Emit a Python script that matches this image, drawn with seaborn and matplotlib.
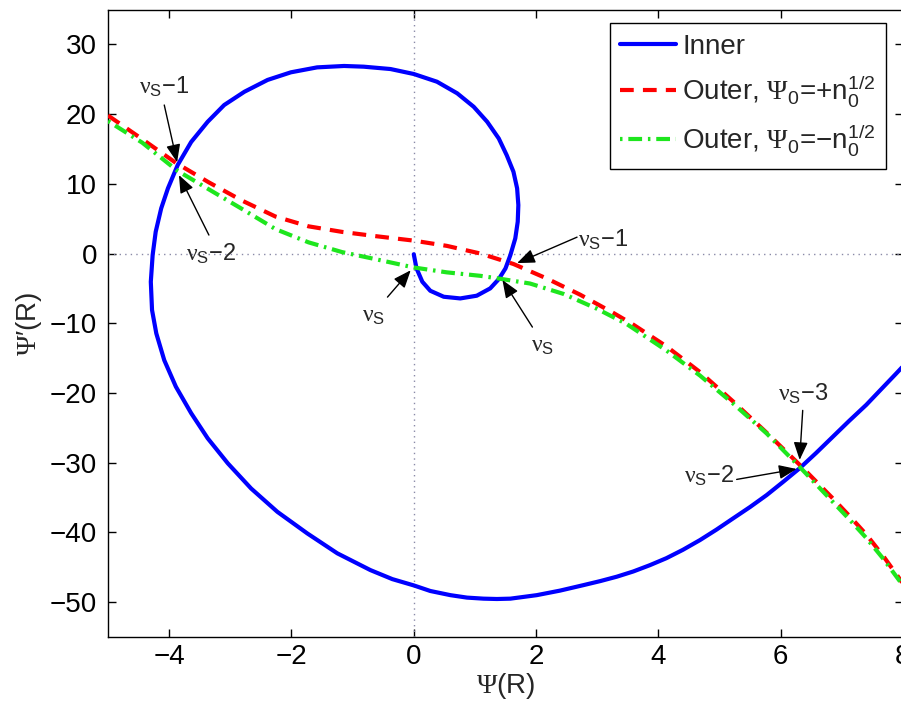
import matplotlib
matplotlib.use('Agg')
import matplotlib.pyplot as plt
import seaborn as sns

# ---------------- data ----------------
inner_x = [0.00, 0.044, 0.14, 0.27, 0.49, 0.76, 1.03, 1.25, 1.39, 1.50, 1.58, 1.66,
           1.70, 1.71, 1.69, 1.63, 1.52, 1.39, 1.20, 0.98, 0.71, 0.38, 0.00,
           -0.38, -0.82, -1.14, -1.58, -2.01, -2.39, -2.77, -3.10, -3.37, -3.64,
           -3.86, -4.02, -4.13, -4.22, -4.27, -4.30, -4.28, -4.21, -4.08, -3.89,
           -3.64, -3.37, -3.04, -2.66, -2.23, -1.74, -1.25, -0.71, -0.35, 0.00,
           0.27, 0.60, 0.87, 1.14, 1.36, 1.58, 2.01, 2.39, 2.77, 3.05, 3.32, 3.59,
           3.86, 4.13, 4.40, 4.68, 4.95, 5.22, 5.50, 5.77, 6.04, 6.31, 6.58, 6.85,
           7.12, 7.40, 7.65, 7.89, 8.20]
inner_y = [-0.1, -2.1, -4.05, -5.34, -6.2, -6.44, -6.05, -5.0, -3.67, -2.13, -0.22, 2.17,
           4.56, 6.95, 9.35, 11.73, 14.1, 16.5, 18.9, 21.05, 22.98, 24.64, 25.75,
           26.46, 26.8, 26.9, 26.7, 25.99, 24.9, 23.2, 21.3, 18.9, 16.0,
           12.7, 9.35, 6.48, 3.12, -0.22, -4.05, -8.1, -11.46, -15.3, -19.1,
           -22.9, -26.5, -30.1, -33.7, -37.05, -40.15, -43.0, -45.4, -46.7, -47.6,
           -48.4, -49.0, -49.35, -49.5, -49.55, -49.5, -49.0, -48.35, -47.57, -46.98, -46.35, -45.6,
           -44.7, -43.7, -42.5, -41.1, -39.6, -38.0, -36.35, -34.65, -32.75, -30.8, -28.6, -26.3,
           -24.0, -21.7, -19.4, -17.2, -14.3]

outer_plus_x = [-5.0, -4.44, -3.89, -3.35, -2.81, -2.26, -1.72, -1.17, -0.63, 0.0,
                0.54, 1.09, 1.63, 2.18, 2.72, 3.26, 3.59, 4.13, 4.68, 5.22, 5.77,
                6.31, 6.85, 7.12, 7.40, 7.67, 7.94, 8.30]
outer_plus_y = [19.8, 16.4, 13.0, 10.2, 7.6, 5.3, 3.9, 3.1, 2.5, 1.85,
                1.1, 0.0, -1.5, -3.6, -5.9, -8.5, -10.2, -13.3, -17.0, -21.2, -25.7,
                -30.3, -35.1, -37.6, -40.3, -43.3, -46.6, -51.3]

outer_minus_x = [-5.0, -4.44, -3.87, -3.35, -2.81, -2.26, -1.72, -1.17, -0.63, 0.0,
                 0.54, 1.09, 1.40, 1.90, 2.45, 2.99, 3.48, 4.13, 4.68, 5.22, 5.77,
                 6.31, 6.85, 7.12, 7.40, 7.67, 7.94, 8.30]
outer_minus_y = [19.0, 15.9, 11.9, 9.2, 6.4, 3.5, 1.6, 0.2, -0.8, -2.0,
                 -2.7, -3.2, -3.6, -4.3, -5.8, -7.9, -10.1, -13.9, -17.5, -21.5, -25.8,
                 -30.6, -35.6, -38.1, -40.8, -43.7, -46.9, -51.2]

series_labels = ['Inner',
                 r'Outer, $\mathsf{\Psi}_{0}$=+n$_{0}^{1/2}$',
                 r'Outer, $\mathsf{\Psi}_{0}$=−n$_{0}^{1/2}$']

ann_labels = [r'$\mathsf{\nu}_{\mathrm{S}}$−1', r'$\mathsf{\nu}_{\mathrm{S}}$−2',
              r'$\mathsf{\nu}_{\mathrm{S}}$', r'$\mathsf{\nu}_{\mathrm{S}}$',
              r'$\mathsf{\nu}_{\mathrm{S}}$−1', r'$\mathsf{\nu}_{\mathrm{S}}$−3',
              r'$\mathsf{\nu}_{\mathrm{S}}$−2']
ann_text_x = [-4.08, -3.32, -0.65, 2.11, 3.10, 6.37, 4.83]
ann_text_y = [23.9, 0.0, -8.9, -13.2, 2.07, -20.1, -31.9]
ann_tail_x = [-4.08, -3.35, -0.43, 1.94, 2.67, 6.36, 5.28]
ann_tail_y = [21.3, 2.65, -6.25, -10.55, 2.35, -22.5, -32.4]
ann_tip_x = [-3.87, -3.84, -0.05, 1.45, 1.69, 6.31, 6.26]
ann_tip_y = [13.1, 11.25, -2.4, -3.8, -1.37, -29.6, -30.9]

x_ticks = [-4, -2, 0, 2, 4, 6, 8]
y_ticks = [-50, -40, -30, -20, -10, 0, 10, 20, 30]

# ---------------- style ----------------
sns.set_style('ticks')
plt.rcParams['font.family'] = ['Liberation Sans', 'DejaVu Sans']
plt.rcParams['mathtext.fontset'] = 'custom'
plt.rcParams['mathtext.rm'] = 'Liberation Sans'
plt.rcParams['mathtext.it'] = 'Liberation Sans:italic'
plt.rcParams['mathtext.bf'] = 'Liberation Sans:bold'
plt.rcParams['mathtext.sf'] = 'Liberation Serif'

fig = plt.figure(figsize=(9.01, 7.06), dpi=100)
ax = fig.add_axes([108 / 901, 69 / 706, 795 / 901, 627.5 / 706])

ax.axhline(0, color='#8a8aa8', lw=1.0, ls=(0, (1, 3)), zorder=1)
ax.axvline(0, color='#8a8aa8', lw=1.0, ls=(0, (1, 3)), zorder=1)

sns.lineplot(x=inner_x, y=inner_y, sort=False, estimator=None, ax=ax,
             color='#0000ff', lw=3, label=series_labels[0], zorder=3)
sns.lineplot(x=outer_plus_x, y=outer_plus_y, sort=False, estimator=None, ax=ax,
             color='#ff0000', lw=3, linestyle=(0, (3.3, 2.2)),
             label=series_labels[1], zorder=4)
sns.lineplot(x=outer_minus_x, y=outer_minus_y, sort=False, estimator=None, ax=ax,
             color='#1ee61e', lw=3, linestyle=(0, (0.6, 1.4, 3.3, 1.4)),
             label=series_labels[2], zorder=5)

ax.set_xlim(-5, 8)
ax.set_ylim(-55, 35)
ax.set_xticks(x_ticks)
ax.set_yticks(y_ticks)
ax.tick_params(direction='in', top=True, right=True, length=6, width=1,
               labelsize=20, colors='black')
ax.tick_params(axis='x', pad=5)
ax.tick_params(axis='y', pad=8)
for s in ax.spines.values():
    s.set_visible(True)
    s.set_linewidth(1)
    s.set_color('black')

ax.set_xlabel(r'$\mathsf{\Psi}$(R)', fontsize=20, labelpad=1)
ax.set_ylabel(r'$\mathsf{\Psi}$′(R)', fontsize=20, labelpad=4)

for lab, tx, ty, ax0, ay0, bx, by in zip(ann_labels, ann_text_x, ann_text_y,
                                         ann_tail_x, ann_tail_y, ann_tip_x, ann_tip_y):
    ax.text(tx, ty, lab, ha='center', va='center', fontsize=17, zorder=6)
    ax.annotate('', xy=(bx, by), xytext=(ax0, ay0),
                arrowprops=dict(arrowstyle='-|>,head_length=0.6,head_width=0.24',
                                color='black', lw=1, mutation_scale=18,
                                shrinkA=0, shrinkB=0), zorder=6)

handles, labels = ax.get_legend_handles_labels()
leg = ax.legend(handles, labels, loc='upper right',
                bbox_to_anchor=(886 / 901, 1 - 23 / 706), bbox_transform=fig.transFigure,
                frameon=True, fancybox=False, framealpha=1, edgecolor='black',
                fontsize=20, handlelength=2.0, handletextpad=0.22, borderpad=0.38,
                labelspacing=0.48, borderaxespad=0)
leg.get_frame().set_linewidth(1)

fig.savefig('out.png', dpi=100)
